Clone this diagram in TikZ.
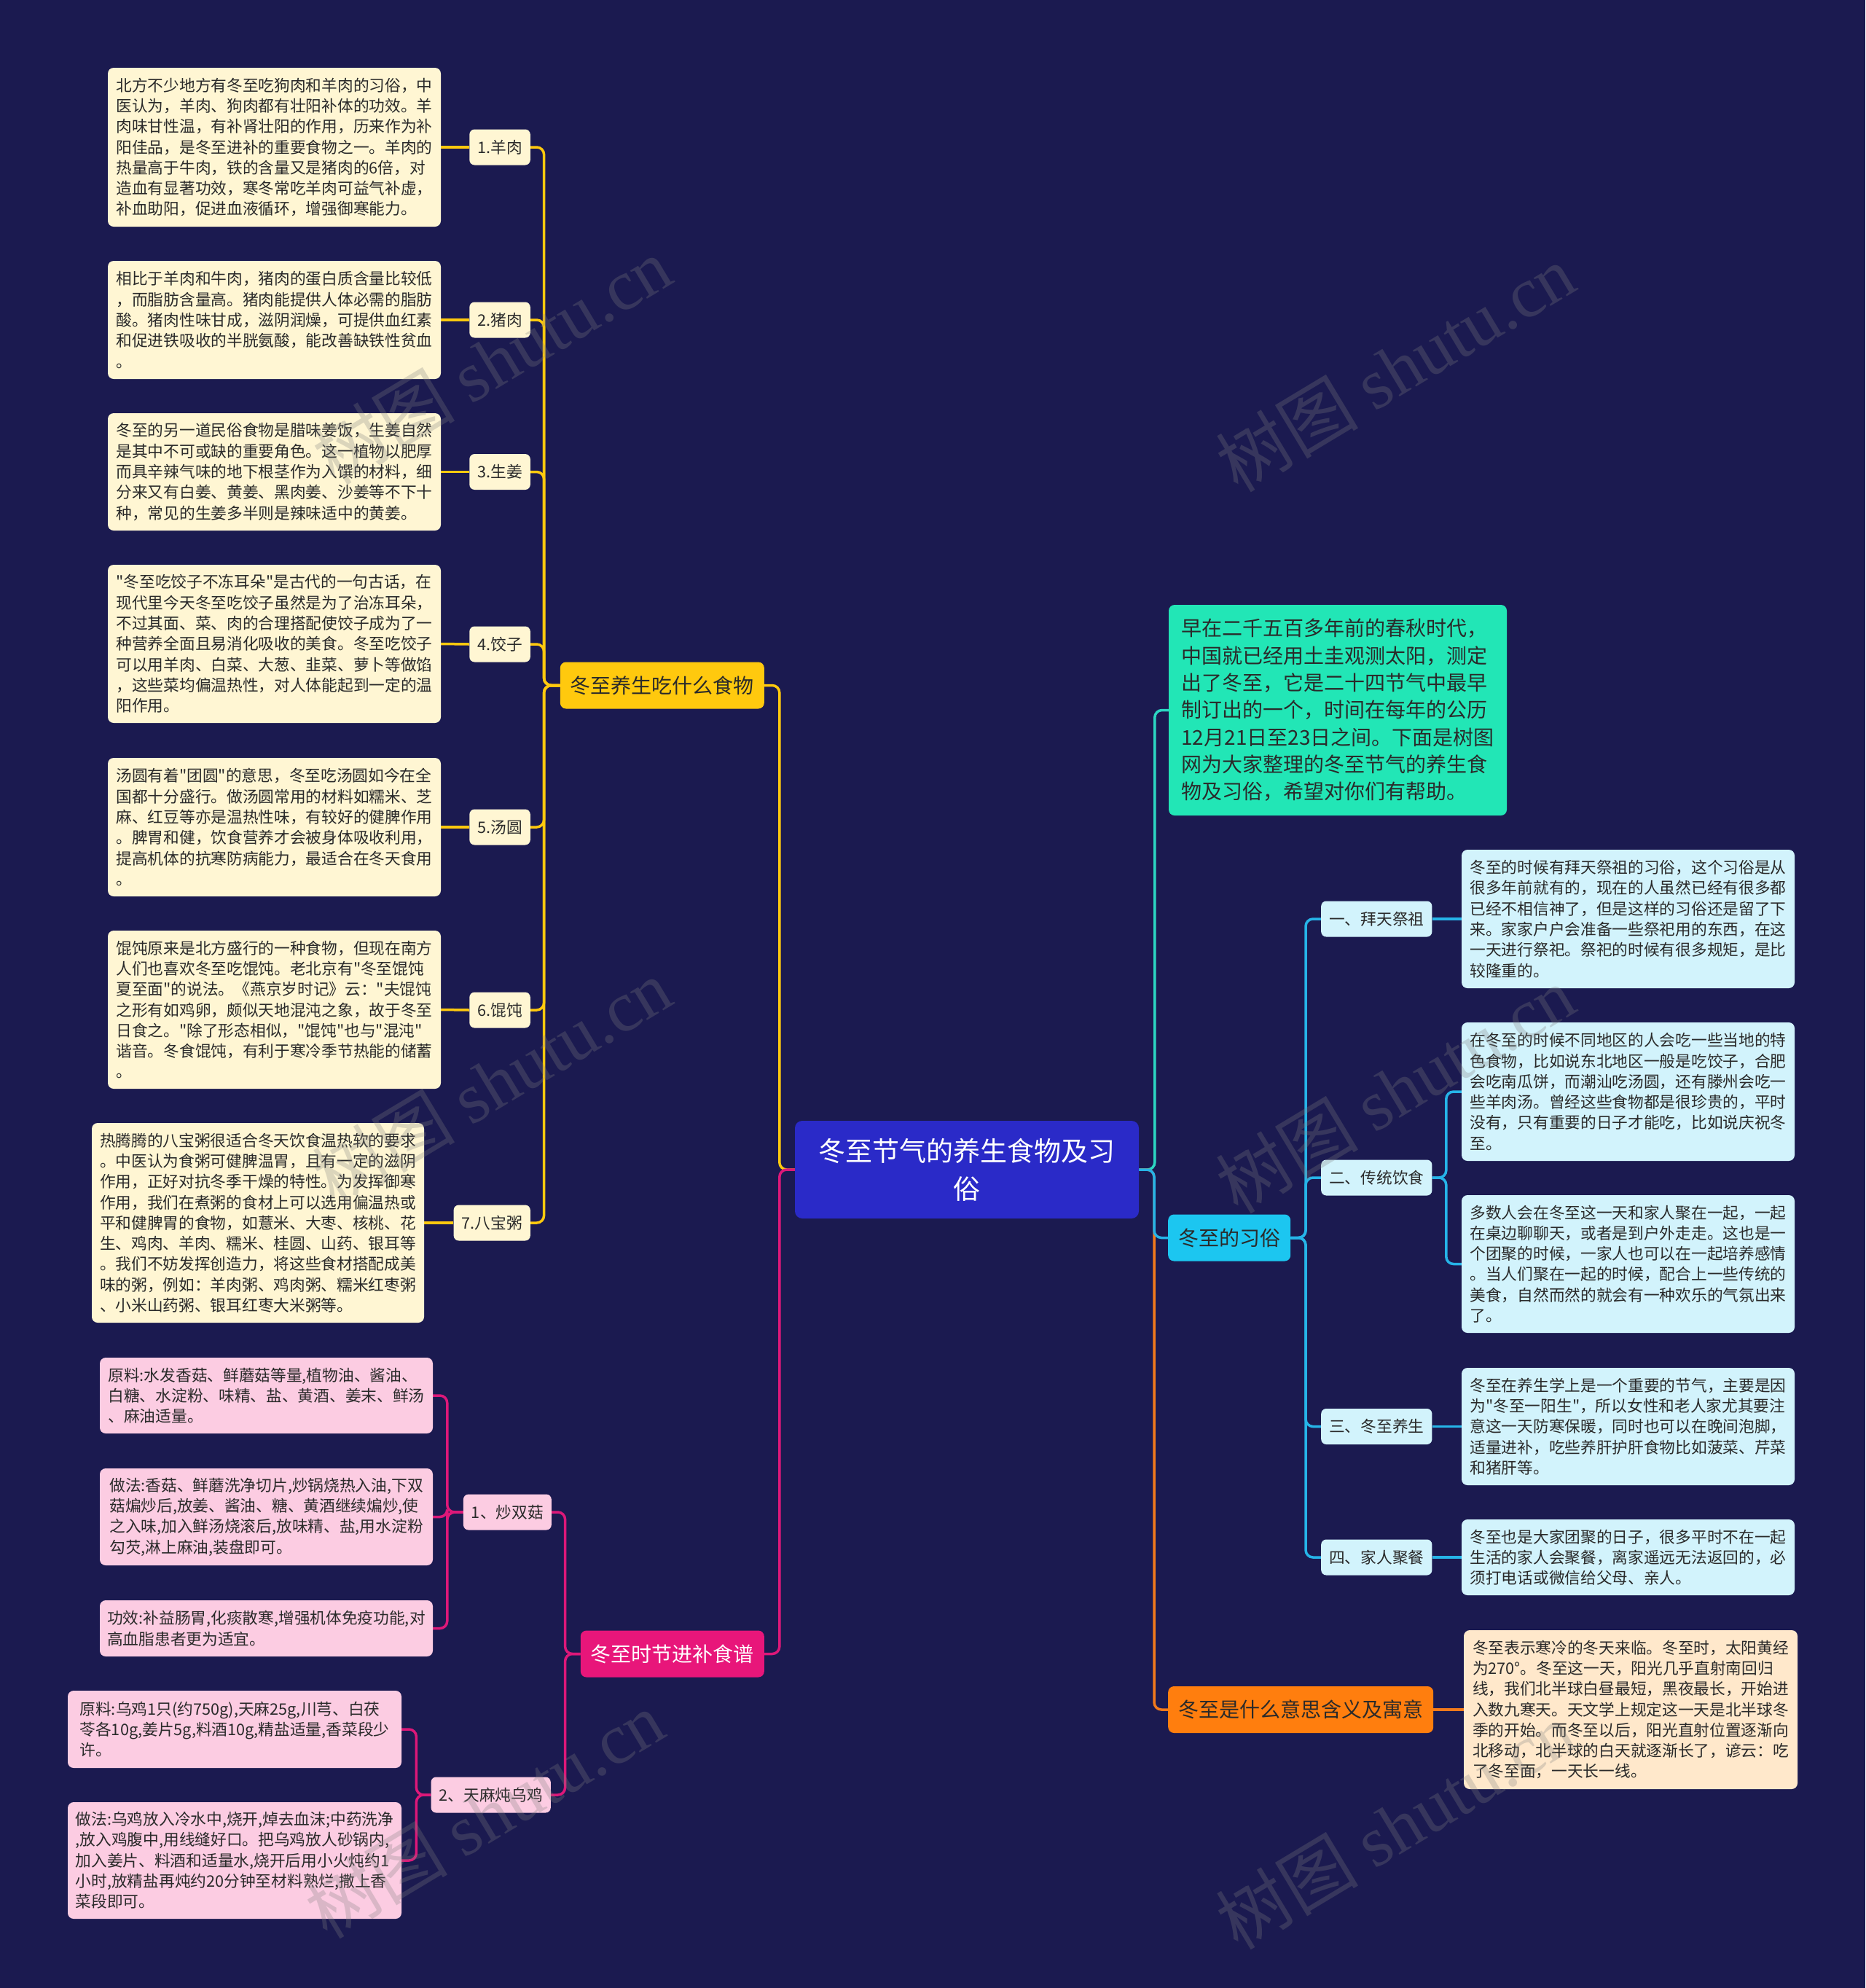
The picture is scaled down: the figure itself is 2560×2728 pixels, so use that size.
\documentclass[tikz,border=0pt]{standalone}
\usepackage{fontspec}
\setmainfont{Noto Sans CJK SC}[Ligatures=TeXOff]
\newfontfamily\wmserif{Liberation Serif}
\usetikzlibrary{calc}
\definecolor{bgc}{HTML}{1B1A50}
\definecolor{centerc}{HTML}{2A2AC8}
\definecolor{yelc}{HTML}{FFC90E}
\definecolor{yleaf}{HTML}{FFF6D3}
\definecolor{pinkc}{HTML}{E8167A}
\definecolor{pline}{HTML}{DD1879}
\definecolor{pleaf}{HTML}{FCCCE2}
\definecolor{turqc}{HTML}{22E6B6}
\definecolor{tline}{HTML}{2CD6C2}
\definecolor{cyanc}{HTML}{1CC6F0}
\definecolor{cline}{HTML}{26B4E8}
\definecolor{cleaf}{HTML}{D2F3FC}
\definecolor{orc}{HTML}{FF7E0E}
\definecolor{oline}{HTML}{F27A1C}
\definecolor{oleaf}{HTML}{FFE8CB}
\definecolor{dtext}{HTML}{2A2A2A}
\newcommand\mmleaf{\fontsize{21.7}{28.3}\selectfont}
\newcommand\mmmain{\fontsize{28}{37.3}\selectfont}
\newcommand\mmcenter{\fontsize{37}{52}\selectfont}
\pgfdeclarelayer{bgl}
\pgfdeclarelayer{lines}
\pgfsetlayers{bgl,lines,main}
\tikzset{
  leafbox/.style={rounded corners=8pt, inner sep=0pt, align=left, text=dtext, font=\mmleaf},
  ybox/.style={leafbox, fill=yleaf},
  pbox/.style={leafbox, fill=pleaf},
  cbox/.style={leafbox, fill=cleaf},
  obox/.style={leafbox, fill=oleaf},
  lab/.style={rounded corners=7pt, inner xsep=11pt, inner ysep=0pt, minimum height=49pt, text=dtext, font=\mmleaf},
  mainn/.style={rounded corners=8pt, inner xsep=14pt, inner ysep=0pt, minimum height=64pt, font=\mmmain},
  conn/.style={line width=3.5pt, rounded corners=10pt},
  wm/.style={rotate=31, text=gray, text opacity=0.28, font=\fontsize{98}{98}\selectfont}
}
\begin{document}
\begin{tikzpicture}[x=1pt,y=-1pt]
\begin{pgfonlayer}{bgl}
\fill[bgc] (0,0) rectangle (2560,2728);
\end{pgfonlayer}
\useasboundingbox (0,0) rectangle (2560,2728);

% center
\node[rounded corners=10pt, fill=centerc, text=white, font=\mmcenter, align=center, minimum width=472pt, minimum height=134pt, inner sep=0pt] (center) at (1327,1605) {冬至节气的养生食物及习\\俗};

% ===== yellow branch =====
\node[mainn, fill=yelc, text=dtext, anchor=east] (ymain) at (1049,940.5) {冬至养生吃什么食物};

\node[ybox, minimum width=457pt, minimum height=218pt] (y1) at (376.5,202) {北方不少地方有冬至吃狗肉和羊肉的习俗，中\\医认为，羊肉、狗肉都有壮阳补体的功效。羊\\肉味甘性温，有补肾壮阳的作用，历来作为补\\阳佳品，是冬至进补的重要食物之一。羊肉的\\热量高于牛肉，铁的含量又是猪肉的6倍，对\\造血有显著功效，寒冬常吃羊肉可益气补虚，\\补血助阳，促进血液循环，增强御寒能力。};
\node[ybox, minimum width=457pt, minimum height=162pt] (y2) at (376.5,439) {相比于羊肉和牛肉，猪肉的蛋白质含量比较低\\，而脂肪含量高。猪肉能提供人体必需的脂肪\\酸。猪肉性味甘成，滋阴润燥，可提供血红素\\和促进铁吸收的半胱氨酸，能改善缺铁性贫血\\。};
\node[ybox, minimum width=457pt, minimum height=161pt] (y3) at (376.5,647.5) {冬至的另一道民俗食物是腊味姜饭，生姜自然\\是其中不可或缺的重要角色。这一植物以肥厚\\而具辛辣气味的地下根茎作为入馔的材料，细\\分来又有白姜、黄姜、黑肉姜、沙姜等不下十\\种，常见的生姜多半则是辣味适中的黄姜。};
\node[ybox, minimum width=457pt, minimum height=217pt] (y4) at (376.5,883.5) {"冬至吃饺子不冻耳朵"是古代的一句古话，在\\现代里今天冬至吃饺子虽然是为了治冻耳朵，\\不过其面、菜、肉的合理搭配使饺子成为了一\\种营养全面且易消化吸收的美食。冬至吃饺子\\可以用羊肉、白菜、大葱、韭菜、萝卜等做馅\\，这些菜均偏温热性，对人体能起到一定的温\\阳作用。};
\node[ybox, minimum width=457pt, minimum height=190pt] (y5) at (376.5,1135) {汤圆有着"团圆"的意思，冬至吃汤圆如今在全\\国都十分盛行。做汤圆常用的材料如糯米、芝\\麻、红豆等亦是温热性味，有较好的健脾作用\\。脾胃和健，饮食营养才会被身体吸收利用，\\提高机体的抗寒防病能力，最适合在冬天食用\\。};
\node[ybox, minimum width=457pt, minimum height=217pt] (y6) at (376.5,1385.5) {馄饨原来是北方盛行的一种食物，但现在南方\\人们也喜欢冬至吃馄饨。老北京有"冬至馄饨\\夏至面"的说法。《燕京岁时记》云："夫馄饨\\之形有如鸡卵，颇似天地混沌之象，故于冬至\\日食之。"除了形态相似，"馄饨"也与"混沌"\\谐音。冬食馄饨，有利于寒冷季节热能的储蓄\\。};
\node[ybox, minimum width=456pt, minimum height=274pt] (y7) at (354,1678) {热腾腾的八宝粥很适合冬天饮食温热软的要求\\。中医认为食粥可健脾温胃，且有一定的滋阴\\作用，正好对抗冬季干燥的特性。为发挥御寒\\作用，我们在煮粥的食材上可以选用偏温热或\\平和健脾胃的食物，如薏米、大枣、核桃、花\\生、鸡肉、羊肉、糯米、桂圆、山药、银耳等\\。我们不妨发挥创造力，将这些食材搭配成美\\味的粥，例如：羊肉粥、鸡肉粥、糯米红枣粥\\、小米山药粥、银耳红枣大米粥等。};

\node[lab, fill=yleaf, anchor=east] (l1) at (728,202) {1.羊肉};
\node[lab, fill=yleaf, anchor=east] (l2) at (728,439) {2.猪肉};
\node[lab, fill=yleaf, anchor=east] (l3) at (728,647.5) {3.生姜};
\node[lab, fill=yleaf, anchor=east] (l4) at (728,884) {4.饺子};
\node[lab, fill=yleaf, anchor=east] (l5) at (728,1135) {5.汤圆};
\node[lab, fill=yleaf, anchor=east] (l6) at (728,1386) {6.馄饨};
\node[lab, fill=yleaf, anchor=east] (l7) at (728,1678) {7.八宝粥};

% ===== pink branch =====
\node[mainn, fill=pinkc, text=white, anchor=east] (pmain) at (1049,2269.5) {冬至时节进补食谱};
\node[lab, fill=pleaf, anchor=east] (pl1) at (757,2075) {1、炒双菇};
\node[lab, fill=pleaf, anchor=east] (pl2) at (756,2463) {2、天麻炖乌鸡};
\node[pbox, minimum width=457pt, minimum height=104pt] (p1) at (365.5,1915) {原料:水发香菇、鲜蘑菇等量,植物油、酱油、\\白糖、水淀粉、味精、盐、黄酒、姜末、鲜汤\\、麻油适量。};
\node[pbox, minimum width=457pt, minimum height=133pt] (p2) at (365.5,2081.5) {做法:香菇、鲜蘑洗净切片,炒锅烧热入油,下双\\菇煸炒后,放姜、酱油、糖、黄酒继续煸炒,使\\之入味,加入鲜汤烧滚后,放味精、盐,用水淀粉\\勾芡,淋上麻油,装盘即可。};
\node[pbox, minimum width=457pt, minimum height=77pt] (p3) at (365.5,2234.5) {功效:补益肠胃,化痰散寒,增强机体免疫功能,对\\高血脂患者更为适宜。};
\node[pbox, minimum width=458pt, minimum height=106pt] (p4) at (322,2373) {原料:乌鸡1只(约750g),天麻25g,川芎、白茯\\苓各10g,姜片5g,料酒10g,精盐适量,香菜段少\\许。};
\node[pbox, minimum width=458pt, minimum height=160pt] (p5) at (322,2553) {做法:乌鸡放入冷水中,烧开,焯去血沫;中药洗净\\,放入鸡腹中,用线缝好口。把乌鸡放人砂锅内,\\加入姜片、料酒和适量水,烧开后用小火炖约1\\小时,放精盐再炖约20分钟至材料熟烂,撒上香\\菜段即可。};

% ===== right side =====
\node[rounded corners=8pt, fill=turqc, text=dtext, font=\mmmain, align=left, minimum width=464pt, minimum height=289pt, inner sep=0pt] (intro) at (1836,974.5) {早在二千五百多年前的春秋时代，\\中国就已经用土圭观测太阳，测定\\出了冬至，它是二十四节气中最早\\制订出的一个，时间在每年的公历\\12月21日至23日之间。下面是树图\\网为大家整理的冬至节气的养生食\\物及习俗，希望对你们有帮助。};

\node[mainn, fill=cyanc, text=dtext, anchor=west] (xisu) at (1603,1698.5) {冬至的习俗};
\node[lab, fill=cleaf, anchor=west] (s1) at (1813,1261) {一、拜天祭祖};
\node[lab, fill=cleaf, anchor=west] (s2) at (1813,1616) {二、传统饮食};
\node[lab, fill=cleaf, anchor=west] (s3) at (1813,1957.5) {三、冬至养生};
\node[lab, fill=cleaf, anchor=west] (s4) at (1813,2137) {四、家人聚餐};
\node[cbox, minimum width=457pt, minimum height=190pt] (c1) at (2234.5,1261) {冬至的时候有拜天祭祖的习俗，这个习俗是从\\很多年前就有的，现在的人虽然已经有很多都\\已经不相信神了，但是这样的习俗还是留了下\\来。家家户户会准备一些祭祀用的东西，在这\\一天进行祭祀。祭祀的时候有很多规矩，是比\\较隆重的。};
\node[cbox, minimum width=457pt, minimum height=190pt] (c2) at (2234.5,1498) {在冬至的时候不同地区的人会吃一些当地的特\\色食物，比如说东北地区一般是吃饺子，合肥\\会吃南瓜饼，而潮汕吃汤圆，还有滕州会吃一\\些羊肉汤。曾经这些食物都是很珍贵的，平时\\没有，只有重要的日子才能吃，比如说庆祝冬\\至。};
\node[cbox, minimum width=457pt, minimum height=189pt] (c3) at (2234.5,1734.5) {多数人会在冬至这一天和家人聚在一起，一起\\在桌边聊聊天，或者是到户外走走。这也是一\\个团聚的时候，一家人也可以在一起培养感情\\。当人们聚在一起的时候，配合上一些传统的\\美食，自然而然的就会有一种欢乐的气氛出来\\了。};
\node[cbox, minimum width=457pt, minimum height=161pt] (c4) at (2234.5,1957.5) {冬至在养生学上是一个重要的节气，主要是因\\为"冬至一阳生"，所以女性和老人家尤其要注\\意这一天防寒保暖，同时也可以在晚间泡脚，\\适量进补，吃些养肝护肝食物比如菠菜、芹菜\\和猪肝等。};
\node[cbox, minimum width=457pt, minimum height=104pt] (c5) at (2234.5,2137) {冬至也是大家团聚的日子，很多平时不在一起\\生活的家人会聚餐，离家遥远无法返回的，必\\须打电话或微信给父母、亲人。};

\node[mainn, fill=orc, text=dtext, anchor=west] (omain) at (1603,2346) {冬至是什么意思含义及寓意};
\node[obox, minimum width=458pt, minimum height=218pt] (o1) at (2238,2346) {冬至表示寒冷的冬天来临。冬至时，太阳黄经\\为270°。冬至这一天，阳光几乎直射南回归\\线，我们北半球白昼最短，黑夜最长，开始进\\入数九寒天。天文学上规定这一天是北半球冬\\季的开始。而冬至以后，阳光直射位置逐渐向\\北移动，北半球的白天就逐渐长了，谚云：吃\\了冬至面，一天长一线。};

% ===== connectors =====
\begin{pgfonlayer}{lines}
% yellow
\foreach \i in {1,...,7} {
  \draw[conn, yelc] (y\i.east) -- (l\i.west);
  \draw[conn, yelc] (l\i.east) -| ([xshift=-22pt]ymain.west) -- (ymain.west);
}
\draw[conn, yelc] (ymain.east) -| ([xshift=-21pt]center.west) -- (center.west);
% pink
\foreach \i in {1,2,3} {
  \draw[conn, pline] (p\i.east) -| ([xshift=-22pt]pl1.west) -- (pl1.west);
}
\foreach \i in {4,5} {
  \draw[conn, pline] (p\i.east) -| ([xshift=-20pt]pl2.west) -- (pl2.west);
}
\draw[conn, pline] (pl1.east) -| ([xshift=-21pt]pmain.west) -- (pmain.west);
\draw[conn, pline] (pl2.east) -| ([xshift=-21pt]pmain.west) -- (pmain.west);
\draw[conn, pline] (pmain.east) -| ([xshift=-21pt]center.west) -- (center.west);
% right
\draw[conn, tline] (center.east) -| ([xshift=-19pt]intro.west) -- (intro.west);
\draw[conn, oline] (center.east) -| ([xshift=-19pt]omain.west) -- (omain.west);
\draw[conn, cline] (center.east) -| ([xshift=-19pt]xisu.west) -- (xisu.west);
\foreach \i in {1,...,4} {
  \draw[conn, cline] (xisu.east) -| ([xshift=-21pt]s\i.west) -- (s\i.west);
}
\draw[conn, cline] (s1.east) -- (c1.west);
\draw[conn, cline] (s2.east) -| ([xshift=-21pt]c2.west) -- (c2.west);
\draw[conn, cline] (s2.east) -| ([xshift=-21pt]c3.west) -- (c3.west);
\draw[conn, cline] (s3.east) -- (c4.west);
\draw[conn, cline] (s4.east) -- (c5.west);
\draw[conn, oline] (omain.east) -- (o1.west);
\end{pgfonlayer}

% watermarks
\node[wm] (wm1) at (675,495) {树图 {\wmserif shutu.cn}};
\node[wm] (wm2) at (1915,505) {树图 {\wmserif shutu.cn}};
\node[wm] (wm3) at (675,1485) {树图 {\wmserif shutu.cn}};
\node[wm] (wm4) at (1915,1495) {树图 {\wmserif shutu.cn}};
\node[wm] (wm5) at (665,2490) {树图 {\wmserif shutu.cn}};
\node[wm] (wm6) at (1915,2505) {树图 {\wmserif shutu.cn}};
\end{tikzpicture}
\end{document}
